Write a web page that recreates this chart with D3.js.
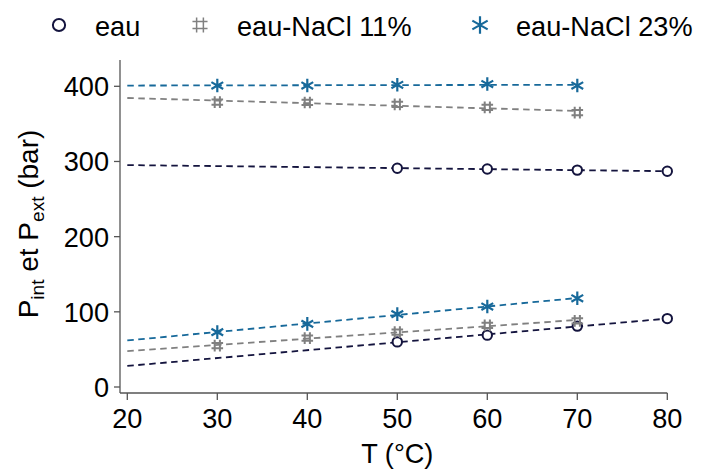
<!DOCTYPE html>
<html><head><meta charset="utf-8">
<script src="https://cdn.jsdelivr.net/npm/d3@7"></script>
<style>body{margin:0;background:#fff}svg{display:block}text{font-family:"Liberation Sans",Arial,sans-serif;fill:#000}</style>
</head><body>
<script>
// ---- data ----
const xTicks = [20,30,40,50,60,70,80];
const yTicks = [0,100,200,300,400];
const seriesNames = ["eau","eau-NaCl 11%","eau-NaCl 23%"];
const eauT   = [50,60,70,80];
const eauExt = [291,290,288.5,287];
const eauInt = [60,69,81,91];
const n11T   = [30,40,50,60,70];
const n11Ext = [379,378.5,376,372,365];
const n11Int = [55,65,73,82,88];
const n23T   = [30,40,50,60,70];
const n23Ext = [401,401,402,403,401];
const n23Int = [73,84,97,107,118];
const fitStart = 20;

const W=703,H=471, FS=28, SX=0.97;
const colors = ["#14143e","#808080","#17699a"];
const x = d3.scaleLinear().domain([20,80]).range([127.3,667.3]);
const y = d3.scaleLinear().domain([0,400]).range([387,86.3]);

const svg = d3.select("body").append("svg").attr("width",W).attr("height",H);

function txt(g, s, tx, ty, anchor, rot){
  const t = g.append("g").attr("transform",`translate(${tx},${ty}) scale(${SX},1)${rot?` rotate(${rot})`:""}`)
    .append("text").attr("text-anchor",anchor).attr("font-size",FS);
  if (typeof s === "string") t.text(s); else s(t);
  return t;
}

// axes
const ax = svg.append("g").attr("stroke","#555").attr("stroke-width",1.3);
ax.append("line").attr("x1",120).attr("x2",120).attr("y1",60).attr("y2",393);
ax.append("line").attr("x1",120).attr("x2",x(80)).attr("y1",393).attr("y2",393);
yTicks.forEach(v=>{
  ax.append("line").attr("x1",114).attr("x2",120).attr("y1",y(v)).attr("y2",y(v));
  txt(svg,String(v),109,y(v)+10,"end");
});
xTicks.forEach(v=>{
  ax.append("line").attr("x1",x(v)).attr("x2",x(v)).attr("y1",393).attr("y2",400);
  txt(svg,String(v),x(v),428,"middle");
});
txt(svg,"T (°C)",(x(20)+x(80))/2,463,"middle");
txt(svg,t=>{
  t.append("tspan").text("P");
  t.append("tspan").attr("font-size",FS*0.68).attr("dy",6).text("int");
  t.append("tspan").attr("dy",-6).text(" et P");
  t.append("tspan").attr("font-size",FS*0.68).attr("dy",6).text("ext");
  t.append("tspan").attr("dy",-6).text(" (bar)");
},38,224,"middle",-90);

// markers
function marker(g, type, cx, cy, color, k=1){
  if(type===0){
    g.append("circle").attr("cx",cx).attr("cy",cy).attr("r",4.7*k).attr("fill","#fff").attr("stroke",color).attr("stroke-width",2);
  } else if(type===1){
    const s=5.8*k, o=2.6*k;
    const p=`M${cx-o},${cy-s}V${cy+s}M${cx+o},${cy-s}V${cy+s}M${cx-s},${cy-o}H${cx+s}M${cx-s},${cy+o}H${cx+s}`;
    g.append("path").attr("d",p).attr("stroke",color).attr("stroke-width",k>1?1.5:2).attr("fill","none");
  } else {
    const r=6.8*k; let p="";
    [90,30,150].forEach(a=>{const c=Math.cos(a*Math.PI/180)*r, s=Math.sin(a*Math.PI/180)*r;
      p+=`M${cx-c},${cy-s}L${cx+c},${cy+s}`;});
    g.append("path").attr("d",p).attr("stroke",color).attr("stroke-width",2.2).attr("fill","none");
  }
}

function fit(T,V){
  const mx=d3.mean(T), my=d3.mean(V);
  const b=d3.sum(T,(t,i)=>(t-mx)*(V[i]-my))/d3.sum(T,t=>(t-mx)*(t-mx));
  const a=my-b*mx; const x1=d3.max(T);
  return [[fitStart,a+b*fitStart],[x1,a+b*x1]];
}
const sets=[[eauT,eauExt,eauInt],[n11T,n11Ext,n11Int],[n23T,n23Ext,n23Int]];
const line=d3.line().x(d=>x(d[0])).y(d=>y(d[1]));
const lg=svg.append("g"), mg=svg.append("g");
sets.forEach(([T,E,I],k)=>{
  [E,I].forEach(V=>{
    lg.append("path").attr("d",line(fit(T,V))).attr("fill","none").attr("stroke",colors[k])
      .attr("stroke-width",1.8).attr("stroke-dasharray","6.5,4.5");
    T.forEach((t,i)=>marker(mg,k,x(t),y(V[i]),colors[k]));
  });
});

// legend
const legX=[59,200,480], legTX=[95,237,516];
seriesNames.forEach((n,k)=>{
  marker(svg,k,legX[k],25,colors[k],1.3);
  txt(svg,n,legTX[k],36,"start");
});
</script>
</body></html>
